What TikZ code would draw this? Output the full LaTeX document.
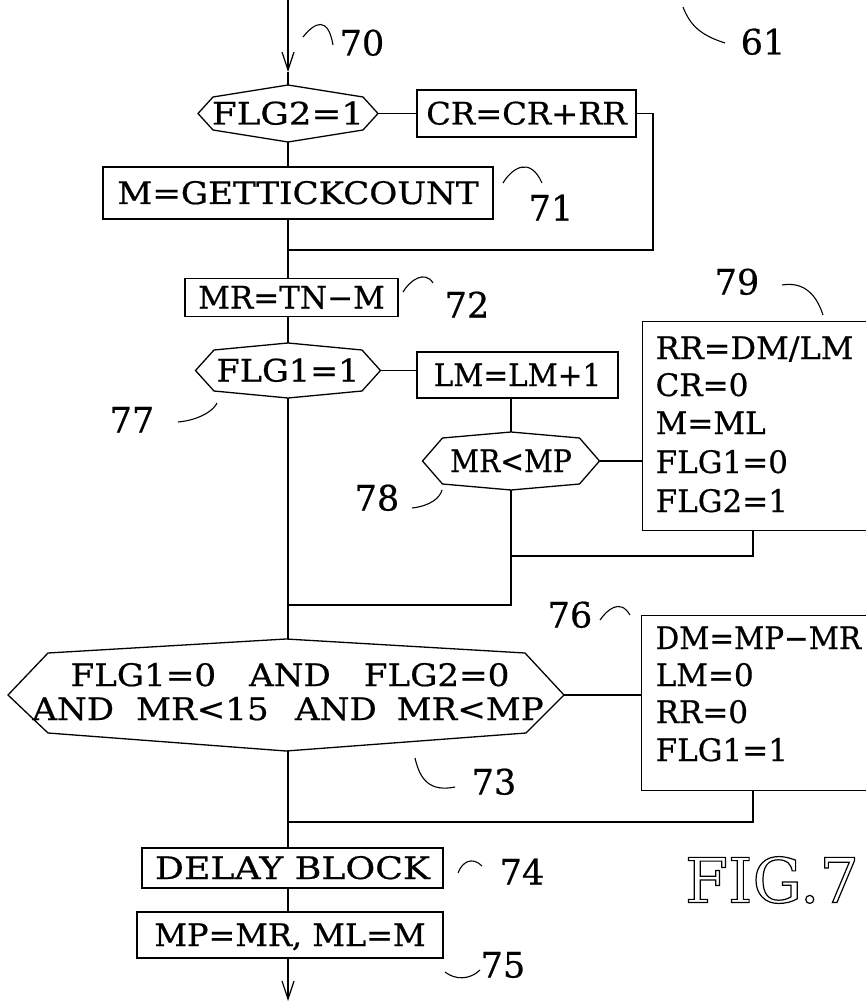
\documentclass[tikz,border=0pt]{standalone}
\usepackage{graphicx}
\usepackage{fontspec}
\setmainfont{DejaVu Serif}[FakeBold=0.6]
\newfontfamily\figfont{DejaVu Serif}
\usetikzlibrary{arrows.meta,calc}
\newcommand\sx[2]{\scalebox{#1}[1]{#2}}
\newcommand\dechex[8]{%
  \node[txt] (#1) at (#2,#3) {#8};
  \draw[shift={(#2,#3)}] (0,-#6) coordinate (#1-t) -- (#5,{-#6+#7}) -- (#4,0) coordinate (#1-r)
    -- (#5,{#6-#7}) -- (0,#6) coordinate (#1-b) -- (-#5,{#6-#7}) -- (-#4,0) coordinate (#1-l)
    -- (-#5,{-#6+#7}) -- cycle;
}
\begin{document}
\begin{tikzpicture}[x=1pt,y=-1pt,line width=1.3pt,
  txt/.style={font=\fontsize{31}{37}\selectfont,inner sep=0pt,text height=22pt,text depth=0pt},
  lab/.style={font=\fontsize{35}{40}\selectfont,inner sep=0pt,text height=25pt,text depth=0pt},
  boxn/.style={txt,draw},
  lead/.style={line width=1.1pt},
  arr/.style={-{Straight Barb[length=18pt,width=12pt,line width=1.2pt]}}]
\useasboundingbox (0,0) rectangle (866,1003);

\node[font=\figfont\fontsize{62}{70}\selectfont,inner sep=0pt] (fig) at (772,880)
  {\special{pdf:literal direct 1 Tr 1.2 w}FIG.7\special{pdf:literal direct 0 Tr}};

% decisions
\dechex{flg2}{288}{113.5}{90}{75}{28.5}{12}{\sx{1.15}{FLG2=1}}
\dechex{flg1}{288}{370.5}{92.5}{74}{27.5}{7}{\sx{1.08}{FLG1=1}}
\dechex{mrmp}{511}{461}{88.5}{68.5}{29}{6}{\sx{0.91}{MR<MP}}
\node[txt] (bigl1) at (290,675) {\sx{1.1}{FLG1=0\hspace{30pt}AND\hspace{30pt}FLG2=0}};
\node[txt] (bigl2) at (288,709) {\sx{1.1}{AND\hspace{20pt}MR<15\hspace{24pt}AND\hspace{18pt}MR<MP}};
\draw[shift={(286,695)}] (0,-56) coordinate (big-t) -- (239,-42) -- (278,0) coordinate (big-r)
  -- (240,38) -- (0,56) coordinate (big-b) -- (-238,38) -- (-278,0) coordinate (big-l) -- (-238,-42) -- cycle;

% process boxes
\node[boxn,minimum width=219,minimum height=47] (cr) at (526.5,113.5) {\sx{1.04}{CR=CR+RR}};
\node[boxn,minimum width=390,minimum height=52] (gtc) at (298,193) {\sx{1.1}{M=GETTICKCOUNT}};
\node[boxn,minimum width=213,minimum height=38] (mr) at (291.5,297.5) {MR=TN{\textminus}M};
\node[boxn,minimum width=201,minimum height=46] (lm) at (517.5,375) {\sx{0.95}{LM=LM+1}};
\node[boxn,minimum width=301,minimum height=40] (delay) at (292.5,868) {\sx{1.17}{DELAY BLOCK}};
\node[boxn,minimum width=306,minimum height=46] (mp) at (290,935) {\sx{1.03}{MP=MR, ML=M}};

\node[draw,minimum width=240,minimum height=209,inner sep=0pt,anchor=north west] (b79) at (642,321) {};
\node[txt,anchor=west] (b79a) at (655,348) {\sx{1.03}{RR=DM/LM}};
\node[txt,anchor=west] (b79b) at (655,385) {CR=0};
\node[txt,anchor=west] (b79c) at (655,423) {M=ML};
\node[txt,anchor=west] (b79d) at (655,462) {FLG1=0};
\node[txt,anchor=west] (b79e) at (655,501) {FLG2=1};

\node[draw,minimum width=240,minimum height=175,inner sep=0pt,anchor=north west] (b76) at (641,615) {};
\node[txt,anchor=west] (b76a) at (655,638) {\sx{0.95}{DM=MP{\textminus}MR}};
\node[txt,anchor=west] (b76b) at (655,675) {LM=0};
\node[txt,anchor=west] (b76c) at (655,712) {RR=0};
\node[txt,anchor=west] (b76d) at (655,750) {FLG1=1};

% coordinates
\coordinate (start) at (288,0);
\coordinate (tip70) at (288,72);
\coordinate (crc) at (653,250);
\coordinate (j1) at (288,250);
\coordinate (j2) at (753,556);
\coordinate (j3) at (511,605);
\coordinate (j3m) at (288,605);
\coordinate (j4) at (288,822);
\coordinate (j4r) at (753,822);
\coordinate (endp) at (288,1001);

% connectors
\draw[arr] (start) -- (tip70);
\draw (tip70) -- (flg2-t);
\draw (flg2-r) -- (cr.west);
\draw (flg2-b) -- (flg2-b |- gtc.north);
\draw (cr.east) -| (crc) -- (j1);
\draw (flg2-b |- gtc.south) -- (flg2-b |- mr.north);
\draw (flg1-t |- mr.south) -- (flg1-t);
\draw (flg1-r) -- (flg1-r -| lm.west);
\draw (mrmp-t |- lm.south) -- (mrmp-t);
\draw (mrmp-r) -- (mrmp-r -| b79.west);
\draw (j2 |- b79.south) -- (j2) -- (mrmp-b |- j2);
\draw (mrmp-b) -- (j3) -- (j3m);
\draw (flg1-b) -- (flg1-b |- big-t);
\draw (big-r) -- (big-r -| b76.west);
\draw (flg1-b |- big-b) -- (j4) -- (j4r) -- (j4r |- b76.south);
\draw (j4) -- (j4 |- delay.north);
\draw (j4 |- delay.south) -- (j4 |- mp.north);
\draw[arr] (j4 |- mp.south) -- (endp);

% reference labels
\node[lab] (l70) at (362,43) {70};
\draw[lead] (303,37) .. controls (315,22) and (328,16) .. (333,45);
\node[lab] (l61) at (763,42) {61};
\draw[lead] (683,7) .. controls (690,25) and (700,35) .. (725,43);
\node[lab] (l71) at (551,208) {71};
\draw[lead] (503,183) .. controls (512,168) and (530,156) .. (542,183);
\node[lab] (l72) at (467,305) {72};
\draw[lead] (403,292) .. controls (410,280) and (425,270) .. (433,283);
\node[lab] (l77) at (132,420) {77};
\draw[lead] (178,422) .. controls (200,420) and (214,410) .. (217,403);
\node[lab] (l78) at (377,498) {78};
\draw[lead] (412,508) .. controls (430,506) and (440,498) .. (442,490);
\node[lab] (l79) at (737,282) {79};
\draw[lead] (782,285) .. controls (800,282) and (815,290) .. (823,315);
\node[lab] (l76) at (570,615) {76};
\draw[lead] (600,620) .. controls (607,610) and (620,598) .. (630,615);
\node[lab] (l73) at (494,782) {73};
\draw[lead] (415,758) .. controls (420,780) and (430,792) .. (455,787);
\node[lab] (l74) at (522,872) {74};
\draw[lead] (458,873) .. controls (462,862) and (472,856) .. (482,866);
\node[lab] (l75) at (503,965) {75};
\draw[lead] (445,972) .. controls (455,980) and (470,980) .. (480,970);
\end{tikzpicture}
\end{document}
